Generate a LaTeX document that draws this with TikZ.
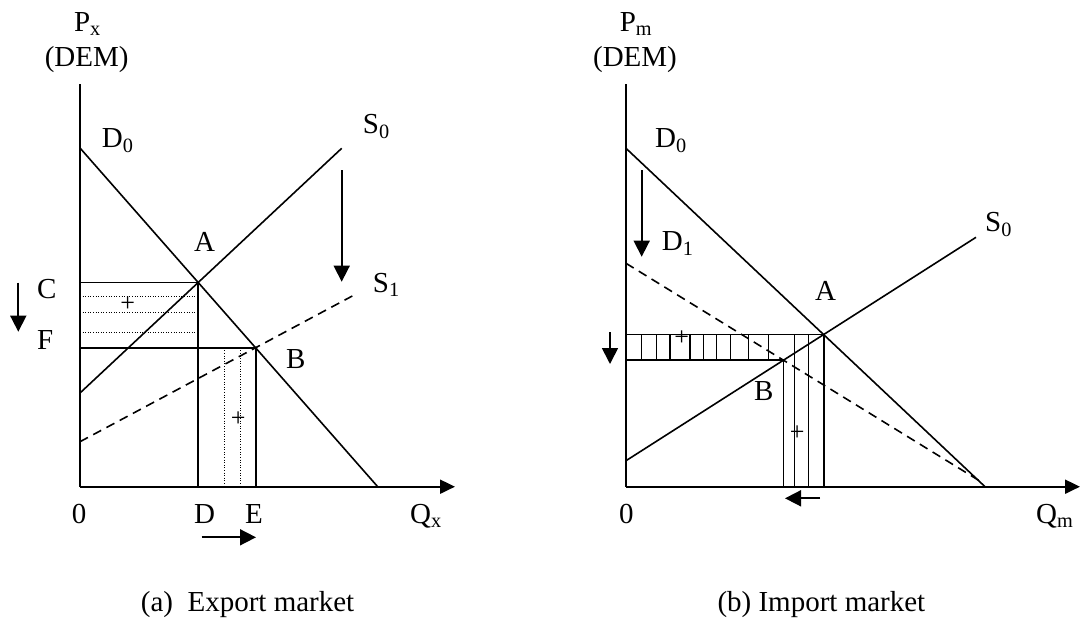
\documentclass[tikz,border=0pt]{standalone}
\usepackage{fontspec}
\setmainfont{Liberation Serif}
\usetikzlibrary{arrows.meta}
\begin{document}
\begin{tikzpicture}[x=1pt,y=-1pt,
  every node/.style={inner sep=0pt,font=\fontsize{29}{34}\selectfont},
  lbl/.style={anchor=base west},
  plus/.style={font=\fontsize{26}{30}\selectfont},
  curve/.style={line width=1.6pt},
  axis/.style={line width=2pt,-{Triangle[length=15pt,width=14pt]}},
  frame/.style={line width=1.8pt},
  hatch/.style={line width=1.2pt},
  dots/.style={line width=1pt,dash pattern=on 1pt off 1.6pt},
  shiftarrow/.style={line width=1.7pt,-{Triangle[length=16pt,width=16pt]}},
  dashcurve/.style={line width=1.6pt,dash pattern=on 9pt off 6pt}]
\useasboundingbox (0,0) rectangle (1082,622);
% ---------- panel (a)
\coordinate (O1) at (80,486.7);
\coordinate (Yt1) at (80,84);
\coordinate (Xe1) at (455,486.7);
\coordinate (D0a) at (80,148);
\coordinate (D0b) at (377.7,486.7);
\coordinate (S0a) at (80,393);
\coordinate (S0b) at (341.7,148.3);
\coordinate (S1a) at (80,441.7);
\coordinate (S1b) at (352.3,296);
\coordinate (A1) at (intersection of D0a--D0b and S0a--S0b);
\coordinate (B1) at (intersection of D0a--D0b and S1a--S1b);
\coordinate (C1) at (O1 |- A1);
\coordinate (F1) at (O1 |- B1);
\coordinate (Dq) at (A1 |- O1);
\coordinate (Eq) at (B1 |- O1);
% dotted fills
\foreach \yy in {296,312.7,332.3}
  \draw[dots] (80,\yy) -- (A1 |- 0,\yy);
\foreach \xx in {224,240}
  \draw[dots] (\xx,0 |- B1) -- (\xx,486.7);
\draw[frame] (Yt1) -- (O1);
\draw[axis] (O1) -- (Xe1);
\draw[curve] (D0a) -- (D0b);
\draw[curve] (S0a) -- (S0b);
\draw[dashcurve] (S1a) -- (S1b);
\draw[frame] (C1) -- (A1) -- (Dq);
\draw[frame] (F1) -- (B1) -- (Eq);
\node[plus] (p1) at (127.7,304.3) {+};
\node[plus] (p2) at (238.3,419.3) {+};
% arrows
\coordinate (ar1a) at (18.3,282.7); \coordinate (ar1b) at (18.3,331.7);
\draw[shiftarrow] (ar1a) -- (ar1b);
\coordinate (ar2a) at (341.7,170); \coordinate (ar2b) at (341.7,281.7);
\draw[shiftarrow] (ar2a) -- (ar2b);
\coordinate (ar3a) at (201.7,537.3); \coordinate (ar3b) at (256,537.3);
\draw[shiftarrow] (ar3a) -- (ar3b);
% labels
\node[anchor=base] (px) at (87.5,31.7) {P\textsubscript{x}};
\node[anchor=base] (dem1) at (86.7,66.7) {(DEM)};
\node[lbl] (d0l) at (101.7,147.7) {D\textsubscript{0}};
\node[lbl] (s0l) at (362.7,133.3) {S\textsubscript{0}};
\node[lbl] (al) at (194,251.7) {A};
\node[lbl] (s1l) at (372.7,292) {S\textsubscript{1}};
\node[lbl] (cl) at (37,298) {C};
\node[lbl] (fl) at (37,349) {F};
\node[lbl] (bl) at (286,368.3) {B};
\node[lbl] (z1) at (71.7,523.3) {0};
\node[lbl] (dl) at (194,523.3) {D};
\node[lbl] (el) at (245,523.3) {E};
\node[lbl] (qx) at (410,523.3) {Q\textsubscript{x}};
\node[lbl] (capa) at (140.7,611.7) {(a)\ \ Export market};
% ---------- panel (b)
\coordinate (O2) at (626,486.7);
\coordinate (Yt2) at (626,84);
\coordinate (Xe2) at (1080,486.7);
\coordinate (E0a) at (626,148.3);
\coordinate (E0b) at (985,486.7);
\coordinate (E1a) at (626,263.3);
\coordinate (E1b) at (983,483);
\coordinate (T0a) at (626,460.7);
\coordinate (T0b) at (976,237.3);
\coordinate (A2) at (intersection of E0a--E0b and T0a--T0b);
\coordinate (B2) at (intersection of E1a--E1b and T0a--T0b);
\foreach \xx in {641.7,656.7,670,690,703.3,716.7,730.7,748.3,768.3}
  \draw[hatch] (\xx,0 |- A2) -- (\xx,0 |- B2);
\foreach \xx in {794.7,808.7}
  \draw[hatch] (\xx,0 |- A2) -- (\xx,486.7);
\draw[frame] (Yt2) -- (O2);
\draw[axis] (O2) -- (Xe2);
\draw[curve] (E0a) -- (E0b);
\draw[dashcurve] (E1a) -- (E1b);
\draw[curve] (T0a) -- (T0b);
\draw[frame] (O2 |- A2) -- (A2) -- (A2 |- O2);
\draw[frame] (O2 |- B2) -- (B2) -- (B2 |- O2);
\node[plus] (p3) at (681.7,337.7) {+};
\node[plus] (p4) at (797.3,432.7) {+};
\coordinate (br1a) at (610,332); \coordinate (br1b) at (610,364);
\draw[shiftarrow] (br1a) -- (br1b);
\coordinate (br2a) at (641.7,170); \coordinate (br2b) at (641.7,256.7);
\draw[shiftarrow] (br2a) -- (br2b);
\coordinate (br3a) at (820,498.3); \coordinate (br3b) at (785,498.3);
\draw[shiftarrow] (br3a) -- (br3b);
\node[anchor=base] (pm) at (636,31.7) {P\textsubscript{m}};
\node[anchor=base] (dem2) at (635,66.7) {(DEM)};
\node[lbl] (d0r) at (655,147.7) {D\textsubscript{0}};
\node[lbl] (d1r) at (661.7,250.7) {D\textsubscript{1}};
\node[lbl] (s0r) at (985,231.7) {S\textsubscript{0}};
\node[lbl] (ar) at (815,300) {A};
\node[lbl] (br) at (754,400.7) {B};
\node[lbl] (z2) at (619,523.3) {0};
\node[lbl] (qm) at (1036,523.3) {Q\textsubscript{m}};
\node[lbl] (capb) at (717.3,611.7) {(b) Import market};
\end{tikzpicture}
\end{document}
